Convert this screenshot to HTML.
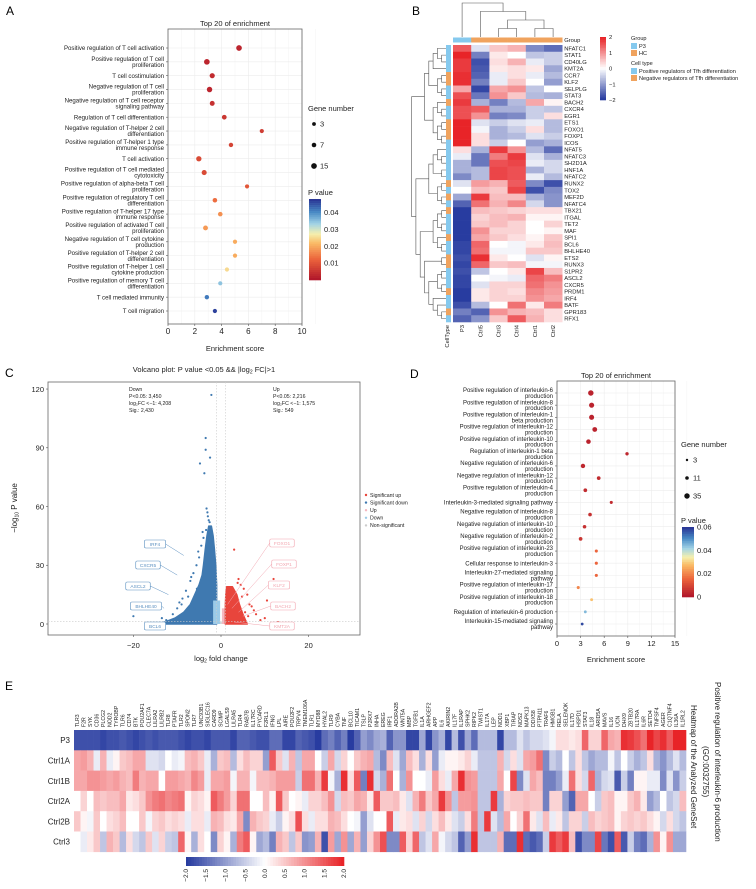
<!DOCTYPE html>
<html><head><meta charset="utf-8">
<style>
html,body{margin:0;padding:0;background:#fff;}
svg{display:block;font-family:"Liberation Sans",Arial,sans-serif;}
</style></head>
<body>
<svg id="fig" width="756" height="889" viewBox="0 0 756 889" xmlns="http://www.w3.org/2000/svg"></svg>
<script>
// ---------- Panel A data ----------
const aTerms=["Positive regulation of T cell activation","Positive regulation of T cell\nproliferation","T cell costimulation","Negative regulation of T cell\nproliferation","Negative regulation of T cell receptor\nsignaling pathway","Regulation of T cell differentiation","Negative regulation of T-helper 2 cell\ndifferentiation","Positive regulation of T-helper 1 type\nimmune response","T cell activation","Positive regulation of T cell mediated\ncytotoxicity","Positive regulation of alpha-beta T cell\nproliferation","Positive regulation of regulatory T cell\ndifferentiation","Positive regulation of T-helper 17 type\nimmune response","Positive regulation of activated T cell\nproliferation","Negative regulation of T cell cytokine\nproduction","Positive regulation of T-helper 2 cell\ndifferentiation","Positive regulation of T-helper 1 cell\ncytokine production","Positive regulation of memory T cell\ndifferentiation","T cell mediated immunity","T cell migration"];
const aScore=[5.3,2.9,3.3,3.1,3.3,4.2,7.0,4.7,2.3,2.7,5.9,3.5,3.9,2.8,5.0,5.0,4.4,3.9,2.9,3.5];
const aP=[0.002,0.002,0.003,0.002,0.004,0.005,0.006,0.007,0.008,0.008,0.010,0.013,0.017,0.018,0.020,0.020,0.025,0.035,0.042,0.047];
const aCount=[15,15,11,13,9,8,5,6,12,10,5,7,7,9,5,5,5,5,6,5];
const aTicks=[0,2,4,6,8,10];
// ---------- Panel B data ----------
const bGenes=["NFATC1","STAT1","CD40LG","KMT2A","CCR7","KLF2","SELPLG","STAT3","BACH2","CXCR4","EGR1","ETS1","FOXO1","FOXP1","ICOS","NFAT5","NFATC3","SH2D1A","HNF1A","NFATC2","RUNX2","TOX2","MEF2D","NFATC4","TBX21","ITGAL","TET2","MAF","SPI1","BCL6","BHLHE40","ETS2","RUNX3","S1PR2","ASCL2","CXCR5","PRDM1","IRF4","BATF","GPR183","RFX1"];
const bSamples=["P3","Ctrl5","Ctrl3","Ctrl4","Ctrl1","Ctrl2"];
const bGroup=["P3","HC","HC","HC","HC","HC"];
const bCellType=["pos","pos","pos","pos","neg","neg","pos","pos","neg","pos","pos","neg","neg","neg","pos","pos","pos","pos","pos","pos","neg","pos","neg","pos","neg","pos","pos","pos","neg","pos","pos","neg","neg","pos","pos","pos","neg","pos","pos","neg","pos"];
const bValues=[
[1.5,-0.3,0.5,0.7,-1.2,-1.5],[2,-1.3,0.2,0,-0.6,-0.5],[1.8,-1.8,0.3,0.7,-0.2,-0.5],[1.8,-1.7,0.2,0.3,0.2,-0.9],
[1.9,-1.6,-0.2,0.3,-0.2,-0.7],[1.9,-1.3,-0.2,0.5,0,-1.0],[0.8,-1.9,0.8,1.0,-0.6,0],[1.6,-1.4,1.0,0.5,-0.7,-0.8],
[1.8,-0.8,-1.3,-0.7,0.8,0.1],[1.6,1.5,-0.8,-0.8,-0.5,-0.6],[1.6,1.0,-1.3,-1.2,-0.5,0.3],[2.1,-0.3,-0.5,-0.3,-0.2,-0.7],
[2.1,-0.1,-0.8,-0.5,0.3,-0.7],[2.1,0.3,-0.8,-0.7,-0.3,-0.5],[2.1,0.3,-0.5,0,-1.0,-0.8],[0.3,-0.8,1.8,1.0,-0.7,-1.5],
[-0.2,-1.4,1.2,1.8,-0.3,-0.8],[-0.8,-1.4,1.6,1.7,-0.2,-0.4],[-0.8,-0.7,1.7,1.6,-0.8,-0.4],[-1.2,-0.7,1.7,1.6,-0.2,-0.7],
[-0.3,0.9,0.7,1.5,-1.2,-1.8],[0,0.6,0.5,1.7,-1.8,-1.2],[-0.9,1.8,0.6,0.6,-0.8,-1.1],[-1.6,1.3,0.7,1.1,-0.4,-1.1],
[-2,0.6,0.5,0.4,0.3,0.3],[-2,0.4,0.6,0.7,0.1,0.1],[-2,0.5,0.6,0.4,0,0.4],[-2,1.0,0.4,0.4,0,0.1],
[-2,0.8,0.5,0.3,0.1,0.5],[-1.9,1.4,0,-0.1,0.2,0.6],[-1.9,1.3,-0.1,-0.1,0.5,0.5],[-1.8,1.9,0.2,0,-0.3,0.1],
[-1.9,1.4,0.5,0.6,-0.1,-0.1],[-1.8,-0.6,0,0.2,1.7,0.6],[-1.9,0,-0.1,-0.2,1.4,1.2],[-1.9,-0.3,0.4,0.4,1.3,1.0],
[-2,0.2,0.4,0.3,1.1,0.9],[-2,0.2,0.4,0.4,1.0,0.8],[-1.8,-0.7,0,1.3,0.2,1.2],[-1.3,-1.6,1.0,0.7,0.6,0.3],[-1.6,-1.1,0.5,1.5,0.7,0.3]];
const bKeyTicks=[2,1,0,-1,-2];
// ---------- Panel C data ----------
const cDownX=[-2.2,-3.5,-3.5,-2.5,-4.8,-3.8,-3.3,-2.8,-20,-9,-7.5,-6,-5.5,-11,-12.5,-3.0,-2.6,-3.4,-4.0,-4.5,-5.0,-5.6,-6.3,-7.0,-8.0,-8.8,-10,-13.5,-4.2,-3.1,-5.2,-6.8,-9.5];
const cDownY=[117,95,89,85,82,77,59,53,4,10,14,8,18,5,2,55,52,48,44,40,34,30,26,22,17,13,8,3,47,57,37,24,11];
const cUpX=[3.0,12.0,4.0,10.5,6.0,8.0,10.0,4.5,7,5.5,9,13,5.2,6.5,4.8,3.8,6.2,7.5];
const cUpY=[38,23,23,12,15,5,3,20,9,6,2,1,18,10,14,21,4,7];
const cDownEnvY=[0,3,6,10,15,20,25,30,38,45,50];
const cDownEnvL=[-14,-10.5,-8.5,-7,-6,-5,-4.3,-4,-3.6,-3.2,-2.8];
const cDownEnvR=[-1,-1,-1,-1,-1,-1,-1.1,-1.2,-1.5,-1.8,-2.2];
const cUpEnvY=[0,5,10,15,19];
const cUpEnvL=[1,1,1,1.1,1.3];
const cUpEnvR=[6,5,4.2,3.6,2.6];
const cYTicks=[0,30,60,90,120];
const cXTicks=[-20,0,20];
// ---------- Panel D data ----------
const dTerms=["Positive regulation of interleukin-6\nproduction","Positive regulation of interleukin-8\nproduction","Positive regulation of interleukin-1\nbeta production","Positive regulation of interleukin-12\nproduction","Positive regulation of interleukin-10\nproduction","Regulation of interleukin-1 beta\nproduction","Negative regulation of interleukin-6\nproduction","Negative regulation of interleukin-12\nproduction","Positive regulation of interleukin-4\nproduction","Interleukin-3-mediated signaling pathway","Negative regulation of interleukin-8\nproduction","Negative regulation of interleukin-10\nproduction","Negative regulation of interleukin-2\nproduction","Positive regulation of interleukin-23\nproduction","Cellular response to interleukin-3","Interleukin-27-mediated signaling\npathway","Positive regulation of interleukin-17\nproduction","Positive regulation of interleukin-18\nproduction","Regulation of interleukin-6 production","Interleukin-15-mediated signaling\npathway"];
const dScore=[4.3,4.4,4.4,4.8,4.0,8.9,3.3,5.3,3.6,6.9,4.2,3.5,3.0,5.0,5.0,5.0,2.7,4.4,3.6,3.2];
const dP=[0.002,0.002,0.002,0.002,0.002,0.003,0.003,0.004,0.004,0.004,0.005,0.005,0.006,0.015,0.015,0.015,0.02,0.028,0.045,0.058];
const dCount=[35,30,28,25,22,9,20,12,12,7,11,11,12,7,7,7,7,6,5,5];
const dTicks=[0,3,6,9,12,15];
// ---------- Panel E data ----------
const eGenes=["TLR3","F2R","SYK","CD36","PLCG2","NOD2","TYROBP","TLR6","CD74","BTK","POU2AF1","CLEC7A","LILRA2","LILRB2","TLR8","PTAFR","TLR2","SPON2","TLR7","UNC93B1","SIGLEC16","CARD9","SCIMP","LGALS9","LILRA5","TLR4","RAB7B","IL17RC","PYCARD","F2RL1","IFNG","LPL","AIRE","POU2F2","TRPV4","TMEM106A","TLR1","MYD88","HYAL2","TLR9","CYBA","TNF","BCL10","TICAM1","TSLP","P2RX7","INHA","EREG","IRF1","ADORA2B","WNT5A","MBP","TGFB1","IL1A","ARHGEF2","APP","IL6","AKIRIN2","IL17F","IL1RAP","SPHK2","RIPK2","TWIST1","IL17A","LEP","NOD1","XBP1","TIRAP","NOS2","MAPK13","DDX58","PTPN11","TRAF6","HMGB1","RELA","SELENOK","IL17D","HSPD1","STAT3","IL18","ARID5A","MAVS","IL16","UCN","DHX9","ZBTB20","IL17RA","IL6R","SETD4","TNFSF4","AGER","C1QTNF4","IL36A","IL1RL2"];
const eSamples=["P3","Ctrl1A","Ctrl1B","Ctrl2A","Ctrl2B","Ctrl3"];
const eP3=[-1.8,-1.8,-1.8,-1.8,-1.9,-1.8,-1.8,-1.7,-1.8,-1.9,-1.8,-1.7,-1.8,-1.7,-1.7,-1.7,-1.8,-1.9,-1.8,-1.8,-1.9,-1.7,-1.7,-1.7,-1.9,-1.6,-1.6,-1.7,-1.8,-1.8,-1.5,-1.5,-1.9,-1.9,-1.6,-1.7,-1.8,-2.0,-1.5,-1.3,-1.6,-1.3,-2.0,-1.6,-1.0,-1.2,-0.9,-0.8,-1.6,-1.1,-1.1,-1.9,-1.9,-0.9,-1.9,-1.1,-0.8,-1.9,-0.7,-1.8,-0.9,-1.5,-0.7,-0.7,-0.7,-1.9,-0.7,-0.7,-0.3,-0.6,-0.4,-0.4,-0.3,-0.1,0.3,0.3,0.2,0.3,1.4,0.4,0.4,1.4,0.8,0.7,1.9,1.8,1.6,1.3,2.0,1.7,1.9,1.5,2.0,2.0];
const eCtrl1A=[0.8,0.9,0.7,-0.2,0.7,-0.2,0.1,0.5,0.6,0.8,0.8,-0.3,-0.3,-0.4,0.0,-0.2,-0.1,0.6,0.7,0.5,-0.2,-0.8,0.5,0.6,-0.7,0.3,0.6,0.4,0.4,-1.0,1.5,0.5,-0.3,0.7,-0.6,0.8,0.8,0,-0.5,0.8,-0.4,0.4,0,0.5,0.7,0.8,-0.7,-1.2,0.6,-0.3,-0.9,0.6,0.3,-0.8,0.3,-1.0,-0.2,0.1,0.1,0.2,0.4,-0.2,-0.6,-0.6,-0.6,0.7,-0.4,0.3,-0.3,0.8,0.9,1.3,-1.2,-0.5,-0.7,0.0,-0.6,0.3,-0.6,-0.9,-0.7,-0.7,-0.1,-0.6,0,-0.5,-0.8,-0.6,0.3,-0.8,-1.1,-0.7,-0.3,-0.7];
const eCtrl1B=[0.8,0.8,1.0,1.0,0.9,0.8,0.9,0.7,0.6,1.2,0.7,0.8,0.8,0,0.9,0.9,0.8,0.7,1.1,0.9,-0.2,0.8,0.8,0.9,-0.1,0.7,0.7,-0.1,0.6,0.6,0.7,0.9,0.9,0.9,-0.5,1.3,1.3,0.7,1.8,-0.1,-0.8,1.9,0.3,1.5,-1.3,1.9,-0.4,-0.8,1.3,0,-0.8,1.0,0,0,-0.2,0.9,0.3,-0.2,0.8,1.9,1.0,0.9,-0.6,-0.6,-0.6,0.8,0,1.7,-1.2,-0.3,0.8,0.6,-1.3,-1.3,-1.0,-0.2,1.3,0.3,-0.4,1.4,-0.8,-0.4,-0.3,-1.7,-0.5,-1.3,0.1,0.1,-0.2,-0.2,-1.2,-0.3,-1.1,-0.5];
const eCtrl2A=[0,0.4,0,0.6,0.5,0.6,0.6,0.8,0.2,0.3,0.5,1.0,1.2,1.3,1.1,1.2,1.3,0.1,0.4,0.3,0.1,1.5,1.2,0.9,0.4,1.3,1.3,0,0,0.6,0.1,1.5,0.5,0,0.1,-0.2,0.4,0.4,0.6,1.0,-0.4,0.6,0.5,0.8,0.7,0.2,1.5,0.5,0.5,0.6,0.2,-0.3,0.7,1.2,0.5,0.8,1.8,1.0,-0.6,0.9,0.9,1.0,-0.6,-0.6,1.8,-0.8,0.4,0.5,0.5,0.6,0.5,0.5,-1.3,0.4,0.4,-1.0,-1.6,0.8,0.8,0,-0.5,0.5,0.6,0.1,0.1,0.5,0.7,0.2,-1.0,-0.7,0,-0.6,-0.4,0.6];
const eCtrl2B=[0.5,0.1,-0.1,0.5,0,0.3,0.4,0.6,0,0,0.5,-0.1,0.4,0.5,0.3,0.4,0.3,-0.2,0.3,0.3,-0.2,0.7,0.6,0.3,0.2,0.8,-1.2,0.7,0.5,0.4,-0.2,-0.5,0.1,0.3,1.6,0.3,-0.2,0.3,0.3,0.7,0.6,0.3,0,-0.1,-1.0,-0.3,0,0,1.5,-0.2,0.2,0.3,-0.3,0.4,-0.4,0.3,0.6,0.2,-0.3,-0.5,0.3,1.2,-0.6,1.8,-0.3,-0.7,0.8,0,0.4,1.3,0.2,-0.3,0.6,-0.2,0.2,-0.6,0.4,0.4,-0.5,0.6,0.4,0.5,0.6,0.1,0.4,0.5,0.4,0.5,0.3,0.1,-0.4,0.3,-0.4,-0.6];
const eCtrl3=[0,-0.2,0.2,0.5,-0.6,0.7,0.5,-0.7,0.3,-0.4,-0.6,0.5,-0.3,0.4,-0.5,-0.6,1.4,0.1,-0.8,0.3,0,-1.2,0.4,0.1,-0.8,1.2,1.5,0.1,-0.9,-0.7,-1.3,0.7,0.5,-0.6,0.5,-1.1,-1.0,0.7,-1.8,0.9,-0.9,1.0,-0.9,0.7,-1.0,0.4,1.0,1.6,-1.2,-1.2,1.5,0.4,1.4,-0.6,-0.3,0.8,-0.1,-0.4,-0.6,-1.6,-1.0,1.9,-0.6,-0.6,-0.6,0.7,-1.5,-1.5,1.9,-1.5,-1.7,-1.5,-0.5,1.8,1.5,1.8,0.6,-1.8,-1.2,-1.2,1.7,-1.4,-1.8,1.5,-1.7,-0.5,-1.3,-1.5,-0.8,1.0,0.1,1.0,-0.9,-0.9];
const eKeyTicks=[-2.0,-1.5,-1.0,-0.5,0.0,0.5,1.0,1.5,2.0];

// ---------- helpers ----------
const NS="http://www.w3.org/2000/svg";
const svg=document.getElementById('fig');
function mk(tag,attrs,parent){const e=document.createElementNS(NS,tag);for(const k in attrs)e.setAttribute(k,attrs[k]);(parent||svg).appendChild(e);return e;}
function txt(x,y,s,size,anchor,extra,parent){const a=Object.assign({x:x,y:y,'font-size':size,'text-anchor':anchor||'start',fill:'#222'},extra||{});const t=mk('text',a,parent);t.textContent=s;return t;}
function lerpColor(stops,t){t=Math.max(0,Math.min(1,t));for(let i=1;i<stops.length;i++){if(t<=stops[i][0]){const a=stops[i-1],b=stops[i];const f=(t-a[0])/(b[0]-a[0]);const c=[0,1,2].map(k=>Math.round(a[1][k]+(b[1][k]-a[1][k])*f));return `rgb(${c[0]},${c[1]},${c[2]})`;}}const l=stops[stops.length-1][1];return `rgb(${l[0]},${l[1]},${l[2]})`;}
const rdylbu=[[0,[178,24,43]],[0.25,[236,100,60]],[0.45,[250,185,100]],[0.57,[245,240,175]],[0.7,[160,210,230]],[0.85,[70,135,195]],[1,[42,55,150]]];
const bwr=[[0,[40,60,160]],[0.5,[255,255,255]],[1,[232,36,40]]];
function heatColor(v){return lerpColor(bwr,(v+2)/4);}
function multiline(x,y,s,size,parent,nameBase){const lines=s.split("\n");const lh=size*0.98;const y0=y-(lines.length-1)*lh/2+size*0.35;lines.forEach((ln,i)=>{const t=txt(x,y0+i*lh,ln,size,'end',{},parent);

});}

// ---------- Panel letters ----------
[["A",6,15],["B",412,15],["C",5,377],["D",410,378],["E",5,690]].forEach(p=>{const t=txt(p[1],p[2],p[0],12,'start',{fill:'#000'});

});

// ---------- dot plot generic ----------
function dotPlot(cfg){
  const g=mk('g',{});
  
  
  const sx=v=>cfg.x0+(v-cfg.xmin)/(cfg.xmax-cfg.xmin)*(cfg.x1-cfg.x0);
  const sy=i=>cfg.yFirst+i*(cfg.yLast-cfg.yFirst)/(cfg.terms.length-1);
  cfg.ticks.forEach(t=>{const l=mk('line',{x1:sx(t),x2:sx(t),y1:cfg.top,y2:cfg.bottom,stroke:'#ececec','stroke-width':0.6},g);
  
  
  if(cfg.minor){const m=mk('line',{x1:sx(t)+(sx(cfg.ticks[1])-sx(cfg.ticks[0]))/2,x2:sx(t)+(sx(cfg.ticks[1])-sx(cfg.ticks[0]))/2,y1:cfg.top,y2:cfg.bottom,stroke:'#f3f3f3','stroke-width':0.5},g);
  
  }});
  cfg.terms.forEach((term,i)=>{const l=mk('line',{x1:cfg.x0,x2:cfg.x1,y1:sy(i),y2:sy(i),stroke:'#ececec','stroke-width':0.6},g);
  
  
  multiline(cfg.labelX,sy(i),term,cfg.labelSize,g,'term-label');
  const tk=mk('line',{x1:cfg.x0-2,x2:cfg.x0,y1:sy(i),y2:sy(i),stroke:'#555','stroke-width':0.6},g);
  
  });
  const box=mk('rect',{x:cfg.x0,y:cfg.top,width:cfg.x1-cfg.x0,height:cfg.bottom-cfg.top,fill:'none',stroke:'#666','stroke-width':0.8},g);
  
  
  cfg.scores.forEach((v,i)=>{const c=mk('circle',{cx:sx(v),cy:sy(i),r:cfg.rScale(cfg.counts[i]),fill:lerpColor(rdylbu,cfg.p[i]/cfg.pmax)},g);
  
  });
  cfg.ticks.forEach(t=>{const tk=mk('line',{x1:sx(t),x2:sx(t),y1:cfg.bottom,y2:cfg.bottom+2,stroke:'#555','stroke-width':0.6},g);
  
  
  const tl=txt(sx(t),cfg.bottom+cfg.tickDy,String(t),cfg.tickSize,'middle',{},g);
  
  });
  const ti=txt((cfg.x0+cfg.x1)/2,cfg.top-3,'Top 20 of enrichment',7.5,'middle',{},g);
  
  
  const xl=txt((cfg.x0+cfg.x1)/2,cfg.xLabelY,'Enrichment score',7.5,'middle',{},g);
  
  
  const gn=txt(cfg.legX,cfg.legY,'Gene number',7.5,'start',{},g);
  
  
  cfg.legSizes.forEach((s,k)=>{const yy=cfg.legY+13+k*cfg.legStep;const c=mk('circle',{cx:cfg.legX+6,cy:yy,r:cfg.rScale(s),fill:'#111'},g);
  
  
  const t=txt(cfg.legX+12,yy+2.5,String(s),7.5,'start',{},g);
  
  });
  const pv=txt(cfg.legX,cfg.cbTop-4,'P value',7.5,'start',{},g);
  
  
  const N=40;for(let k=0;k<N;k++){const r=mk('rect',{x:cfg.legX+1,y:cfg.cbTop+k*(cfg.cbH/N),width:12,height:cfg.cbH/N+0.3,fill:lerpColor(rdylbu,1-k/(N-1))},g);
  
  }
  cfg.cbTicks.forEach(t=>{const yy=cfg.cbTop+(1-t/cfg.cbMax)*cfg.cbH;const l=txt(cfg.legX+16,yy+2.5,t===0?'0':t.toFixed(2),7.5,'start',{},g);
  
  });
}
dotPlot({name:'panel-a-dotplot',terms:aTerms,scores:aScore,p:aP,counts:aCount,pmax:0.048,ticks:aTicks,minor:true,xmin:0,xmax:10,x0:168,x1:302,top:29,bottom:324,yFirst:48,yLast:311,labelX:164,labelSize:6.1,tickDy:10,tickSize:8,xLabelY:351,rScale:n=>1.1+Math.sqrt(n)*0.45,legX:308,legY:111,legStep:21,legSizes:[3,7,15],cbTop:199,cbH:81,cbMax:0.048,cbTicks:[0.04,0.03,0.02,0.01]});
dotPlot({name:'panel-d-dotplot',terms:dTerms,scores:dScore,p:dP,counts:dCount,pmax:0.06,ticks:dTicks,minor:true,xmin:0,xmax:15,x0:557,x1:675,top:381,bottom:636,yFirst:393,yLast:624,labelX:553,labelSize:6.0,tickDy:10,tickSize:7.5,xLabelY:662,rScale:n=>0.6+Math.sqrt(n)*0.36,legX:681,legY:447,legStep:18,legSizes:[3,11,35],cbTop:527,cbH:70,cbMax:0.06,cbTicks:[0.06,0.04,0.02,0]});

// ---------- Panel B heatmap ----------
(function(){
  const g=mk('g',{});
  
  
  const x0=453,cw=18.2,y0=45,rh=277/bGenes.length;
  bValues.forEach((row,i)=>row.forEach((v,j)=>{const r=mk('rect',{x:x0+j*cw,y:y0+i*rh,width:cw+0.3,height:rh+0.3,fill:heatColor(v)},g);
  
  }));
  bGenes.forEach((gn,i)=>{const t=txt(x0+6*cw+2,y0+i*rh+rh/2+2,gn,5.8,'start',{},g);
  
  
  const s=mk('rect',{x:446,y:y0+i*rh,width:5,height:rh+0.3,fill:bCellType[i]==='pos'?'#85c9ee':'#f0a35e'},g);
  
  });
  bGroup.forEach((gp,j)=>{const r=mk('rect',{x:x0+j*cw,y:37.5,width:cw+0.3,height:5,fill:gp==='P3'?'#85c9ee':'#f0a35e'},g);
  
  });
  const gl=txt(x0+6*cw+2,42,'Group',5.8,'start',{},g);
  
  
  ['CellType'].concat(bSamples).forEach((s,j)=>{const cx=j===0?449:x0+(j-1)*cw+cw/2+2;const t=txt(cx,325,s,5.8,'end',{transform:`rotate(-90 ${cx} 325)`},g);
  
  });
  function height(n){return Array.isArray(n)?1+Math.max(height(n[0]),height(n[1])):0;}
  function drawRow(n,scale){if(!Array.isArray(n))return {p:y0+n*rh+rh/2,h:0};const a=drawRow(n[0],scale),b=drawRow(n[1],scale);const h=height(n);const xx=446-h*scale;
    const p=mk('path',{d:`M${446-a.h*scale},${a.p}H${xx}V${b.p}H${446-b.h*scale}`,fill:'none',stroke:'#555','stroke-width':0.6},g);
    
    
    return {p:(a.p+b.p)/2,h:h};}
  const rowTree=[[[[[0,[1,2]],3],[[4,5],[6,7]]],[[8,[9,10]],[[11,12],[13,14]]]],[[[[15,[16,17]],[18,19]],[[20,21],[22,23]]],[[[[24,25],[26,27]],[28,[29,30]]],[[31,32],[[[33,34],[35,36]],[37,[38,[39,40]]]]]]]];
  drawRow(rowTree,4.3);
  function drawCol(n,scale){if(!Array.isArray(n))return {p:x0+n*cw+cw/2,h:0};const a=drawCol(n[0],scale),b=drawCol(n[1],scale);const h=height(n);const yy=37-h*scale;
    const p=mk('path',{d:`M${a.p},${37-a.h*scale}V${yy}H${b.p}V${37-b.h*scale}`,fill:'none',stroke:'#555','stroke-width':0.6},g);
    
    
    return {p:(a.p+b.p)/2,h:h};}
  drawCol([0,[1,[[2,3],[4,5]]]],8.5);
  const N=40;for(let k=0;k<N;k++){const r=mk('rect',{x:600,y:37+k*(63/N),width:6,height:63/N+0.3,fill:heatColor(2-4*k/(N-1))},g);
  
  }
  bKeyTicks.forEach(t=>{const yy=37+(2-t)/4*63;const l=txt(609,yy+2,t<0?'\u2212'+Math.abs(t):String(t),5.8,'start',{},g);
  
  });
  const items=[['Group',null,40],['P3','#85c9ee',48],['HC','#f0a35e',55],['Cell type',null,65],['Positive regulators of Tfh differentiation','#85c9ee',73],['Negative regulators of Tfh differentiation','#f0a35e',80]];
  items.forEach(it=>{if(it[1]){const r=mk('rect',{x:631,y:it[2]-5,width:6,height:6,fill:it[1]},g);
  
  }
  const t=txt(it[1]?639:631,it[2],it[0],5.6,'start',{},g);
  
  });
})();

// ---------- Panel C volcano ----------
(function(){
  const g=mk('g',{});
  
  
  const sx=v=>221+v*4.38, sy=v=>624-v*1.958;
  const L=48,R=360,T=382,B=635;
  const fr=mk('rect',{x:L,y:T,width:R-L,height:B-T,fill:'none',stroke:'#666','stroke-width':0.8},g);
  
  
  const tt=txt(204,372,'',7.5,'middle',{},g);
  tt.innerHTML='Volcano plot: P value &lt;0.05 &amp;&amp; |log<tspan font-size="5" dy="1.5">2</tspan><tspan dy="-1.5"> FC|&gt;1</tspan>';
  
  
  const ns=mk('rect',{x:sx(-6),y:sy(1.3),width:sx(6)-sx(-6),height:sy(0)-sy(1.3),fill:'#d8d8d8'},g);
  
  
  const pts=(ys,ls,rs)=>{let d='';ys.forEach((y,i)=>{d+=(i?'L':'M')+sx(ls[i])+','+sy(y);});for(let i=ys.length-1;i>=0;i--)d+='L'+sx(rs[i])+','+sy(ys[i]);return d+'Z';};
  const dn=mk('path',{d:pts(cDownEnvY,cDownEnvL,cDownEnvR),fill:'#3f79b0',stroke:'#3f79b0','stroke-width':1.5,'stroke-linejoin':'round'},g);
  
  
  const ld=mk('rect',{x:sx(-1.8),y:sy(12),width:sx(-0.2)-sx(-1.8),height:sy(0)-sy(12),fill:'#9ccbe8'},g);
  
  
  const lu=mk('rect',{x:sx(0.2),y:sy(8),width:sx(1.3)-sx(0.2),height:sy(0)-sy(8),fill:'#f5b8c0'},g);
  
  
  const up=mk('path',{d:pts(cUpEnvY,cUpEnvL,cUpEnvR),fill:'#e8453c',stroke:'#e8453c','stroke-width':1.5,'stroke-linejoin':'round'},g);
  
  
  cDownX.forEach((v,i)=>{const c=mk('circle',{cx:sx(v),cy:sy(cDownY[i]),r:1.1,fill:'#3f79b0'},g);
  
  });
  cUpX.forEach((v,i)=>{const c=mk('circle',{cx:sx(v),cy:sy(cUpY[i]),r:1.1,fill:'#e8453c'},g);
  
  });
  [[sx(-1),T,sx(-1),B],[sx(1),T,sx(1),B],[L,sy(1.3),R,sy(1.3)]].forEach(a=>{const l=mk('line',{x1:a[0],y1:a[1],x2:a[2],y2:a[3],stroke:'#ccc','stroke-width':0.6,'stroke-dasharray':'1.5,1.5'},g);
  
  });
  cYTicks.forEach(t=>{const l=mk('line',{x1:L-2,x2:L,y1:sy(t),y2:sy(t),stroke:'#555','stroke-width':0.6},g);
  
  
  const tl=txt(L-4,sy(t)+2.8,String(t),7.5,'end',{},g);
  
  });
  cXTicks.forEach(t=>{const l=mk('line',{x1:sx(t),x2:sx(t),y1:B,y2:B+2,stroke:'#555','stroke-width':0.6},g);
  
  
  const tl=txt(sx(t),B+13,t<0?'\u2212'+Math.abs(t):String(t),7.5,'middle',{},g);
  
  });
  const xt=txt(221,661,'',7.5,'middle',{},g);
  xt.innerHTML='log<tspan font-size="5" dy="1.5">2</tspan><tspan dy="-1.5"> fold change</tspan>';
  
  
  const yt=txt(17,508,'',8,'middle',{transform:'rotate(-90 17 508)'},g);
  yt.innerHTML='\u2212log<tspan font-size="5" dy="1.5">10</tspan><tspan dy="-1.5"> P value</tspan>';
  
  
  const ann=[[129,391,['Down','P<0.05: 3,450','log\u2082FC <\u22121: 4,208','Sig.: 2,430']],[273,391,['Up','P<0.05: 2,216','log\u2082FC <\u22121: 1,575','Sig.: 549']]];
  ann.forEach(a=>a[2].forEach((s,k)=>{const t=txt(a[0],a[1]+k*7,s,5.2,'start',{},g);
  
  }));
  const labs=[['IRF4',155,544,'#5a8fc0',-8.5,35],['CXCR5',148,565,'#5a8fc0',-10,25],['ASCL2',138,586,'#5a8fc0',-12,15],['BHLHE40',146,606,'#5a8fc0',-13,8],['BCL6',155,626,'#5a8fc0',-13,1],['FOXO1',282,543,'#f2a6b0',1.5,10],['FOXP1',284,564,'#f2a6b0',2.5,8],['KLF2',279,585,'#f2a6b0',4,6],['BACH2',283,606,'#f2a6b0',5,4],['KMT2A',282,626,'#f2a6b0',3,1]];
  labs.forEach(l=>{const w=l[0].length*3.3+8;const ln=mk('line',{x1:l[1]<221?l[1]+w/2:l[1]-w/2,y1:l[2],x2:sx(l[4]),y2:sy(l[5]),stroke:l[3],'stroke-width':0.5},g);
  
  
  const r=mk('rect',{x:l[1]-w/2,y:l[2]-4,width:w,height:8,rx:1.5,fill:'#fff',stroke:l[3],'stroke-width':0.6},g);
  
  
  const t=txt(l[1],l[2]+1.8,l[0],4.8,'middle',{fill:l[3]},g);
  
  });
  const leg=[['Significant up','#e8453c'],['Significant down','#3f79b0'],['Up','#f5b8c0'],['Down','#9ccbe8'],['Non-significant','#ccc']];
  leg.forEach((e,k)=>{const yy=495+k*7.6;const c=mk('circle',{cx:366,cy:yy,r:1.2,fill:e[1]},g);
  
  
  const t=txt(370,yy+1.8,e[0],5.2,'start',{},g);
  
  });
})();

// ---------- Panel E heatmap ----------
(function(){
  const g=mk('g',{});
  
  
  const rows=[eP3,eCtrl1A,eCtrl1B,eCtrl2A,eCtrl2B,eCtrl3];
  const x0=74,x1=686,cw=(x1-x0)/eGenes.length,y0=730,rh=20.3;
  rows.forEach((row,i)=>{eGenes.forEach((gn,j)=>{const v=row[j]===undefined?0:row[j];const r=mk('rect',{x:x0+j*cw,y:y0+i*rh,width:cw+0.3,height:rh+0.3,fill:heatColor(v)},g);
  
  });
  const t=txt(70,y0+i*rh+rh/2+3,eSamples[i],8,'end',{},g);
  
  });
  eGenes.forEach((gn,j)=>{const cx=x0+j*cw+cw/2+1.8;const t=txt(cx,727,gn,5.2,'start',{transform:`rotate(-90 ${cx} 727)`},g);
  
  });
  const N=60;for(let k=0;k<N;k++){const r=mk('rect',{x:186+k*(158/N),y:857,width:158/N+0.3,height:9,fill:heatColor(-2+4*k/(N-1))},g);
  
  }
  eKeyTicks.forEach(t=>{const cx=186+(t+2)/4*158;const s=(t<0?'\u2212':'')+Math.abs(t).toFixed(1);const l=txt(cx+2,869,s,6.5,'end',{transform:`rotate(-90 ${cx+2} 869)`},g);
  
  });
  [['Positive regulation of interleukin-6 production',715,682],['(GO:0032755)',703,746],['Heatmap of the Analyzed GeneSet',691,705]].forEach(a=>{const t=txt(a[1],a[2],a[0],8,'start',{transform:`rotate(90 ${a[1]} ${a[2]})`},g);
  
  });
})();
</script>
</body></html>
